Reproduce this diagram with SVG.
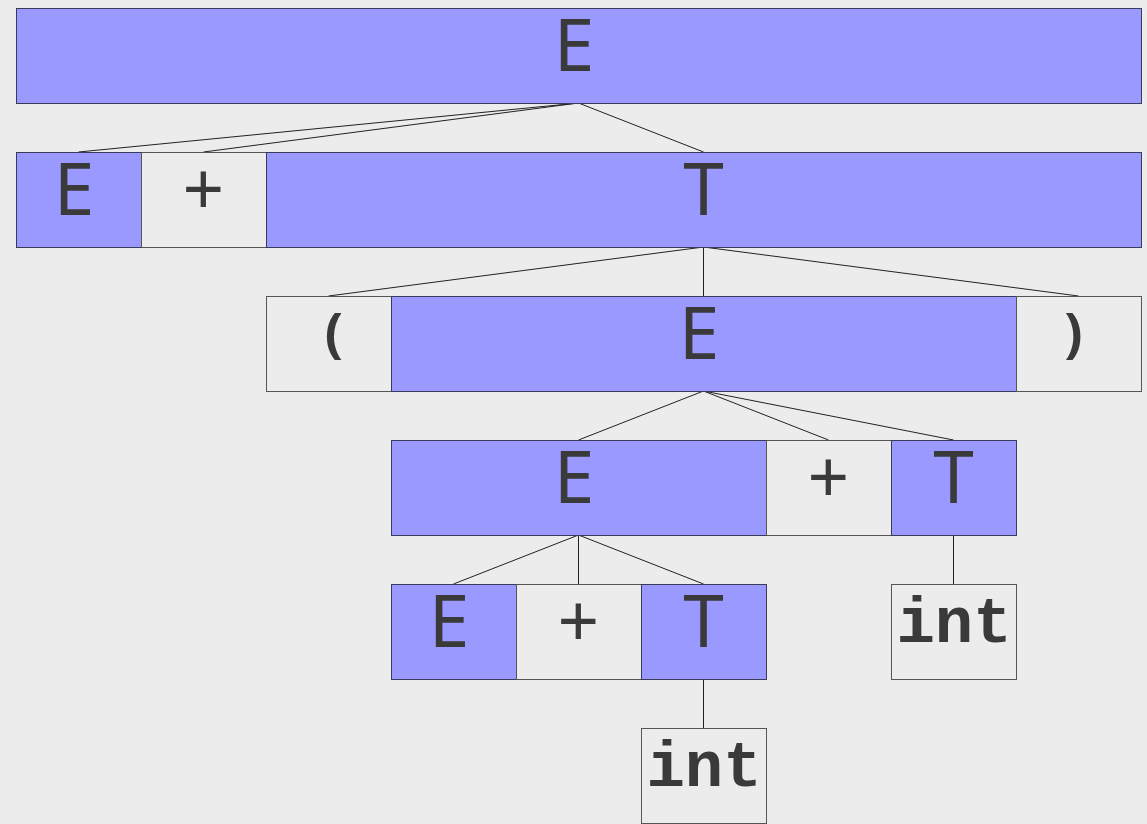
<svg xmlns="http://www.w3.org/2000/svg" width="1147" height="824" viewBox="0 0 1147 824">
<style>
.nt{fill:#9999ff;stroke:#3a3a5a;stroke-width:1}
.t{fill:none;stroke:#555;stroke-width:1}
.c line{stroke:#222;stroke-width:1}
.lbl{font-family:"Noto Sans",sans-serif;font-size:73px;fill:#3a3a3a;text-anchor:middle}
.par{font-family:"Noto Sans",sans-serif;font-size:54px;font-weight:bold;fill:#3a3a3a;text-anchor:middle}
.int{font-family:"Liberation Mono","Courier New",monospace;font-size:64px;font-weight:bold;fill:#3a3a3a;text-anchor:middle}
</style>
<rect x="0" y="0" width="1147" height="824" fill="#ececec"/>
<g class="c" id="connectors">
<line x1="578.5" y1="103" x2="78.5" y2="152"/>
<line x1="578.5" y1="103" x2="203.5" y2="152"/>
<line x1="578.5" y1="103" x2="703.5" y2="152"/>
<line x1="703.5" y1="247" x2="328.5" y2="296"/>
<line x1="703.5" y1="247" x2="703.5" y2="296"/>
<line x1="703.5" y1="247" x2="1078.5" y2="296"/>
<line x1="703.5" y1="391" x2="578.5" y2="440"/>
<line x1="703.5" y1="391" x2="828.5" y2="440"/>
<line x1="703.5" y1="391" x2="953.5" y2="440"/>
<line x1="578.5" y1="535" x2="453.5" y2="584"/>
<line x1="578.5" y1="535" x2="578.5" y2="584"/>
<line x1="578.5" y1="535" x2="703.5" y2="584"/>
<line x1="953.5" y1="535" x2="953.5" y2="584"/>
<line x1="703.5" y1="679" x2="703.5" y2="728"/>
</g>
<g id="n1"><rect class="nt" x="16.5" y="8.5" width="1125" height="95"/><text class="lbl" x="574" y="71">E</text></g>
<g id="n2"><rect class="nt" x="16.5" y="152.5" width="125" height="95"/><text class="lbl" x="74" y="215">E</text></g>
<g id="n3"><rect class="t" x="141.5" y="152.5" width="125" height="95"/><text class="lbl" x="203.5" y="215">+</text></g>
<g id="n4"><rect class="nt" x="266.5" y="152.5" width="875" height="95"/><text class="lbl" x="703.5" y="215">T</text></g>
<g id="n5"><rect class="t" x="266.5" y="296.5" width="125" height="95"/><text class="par" x="334" y="352">(</text></g>
<g id="n6"><rect class="nt" x="391.5" y="296.5" width="625" height="95"/><text class="lbl" x="699" y="359">E</text></g>
<g id="n7"><rect class="t" x="1016.5" y="296.5" width="125" height="95"/><text class="par" x="1073.5" y="352">)</text></g>
<g id="n8"><rect class="nt" x="391.5" y="440.5" width="375" height="95"/><text class="lbl" x="574" y="503">E</text></g>
<g id="n9"><rect class="t" x="766.5" y="440.5" width="125" height="95"/><text class="lbl" x="828.5" y="503">+</text></g>
<g id="n10"><rect class="nt" x="891.5" y="440.5" width="125" height="95"/><text class="lbl" x="953.5" y="503">T</text></g>
<g id="n11"><rect class="nt" x="391.5" y="584.5" width="125" height="95"/><text class="lbl" x="449" y="647">E</text></g>
<g id="n12"><rect class="t" x="516.5" y="584.5" width="125" height="95"/><text class="lbl" x="578.5" y="647">+</text></g>
<g id="n13"><rect class="nt" x="641.5" y="584.5" width="125" height="95"/><text class="lbl" x="703.5" y="647">T</text></g>
<g id="n14"><rect class="t" x="891.5" y="584.5" width="125" height="95"/><text class="int" x="954" y="642">int</text></g>
<g id="n15"><rect class="t" x="641.5" y="728.5" width="125" height="95"/><text class="int" x="704" y="786">int</text></g>
</svg>
